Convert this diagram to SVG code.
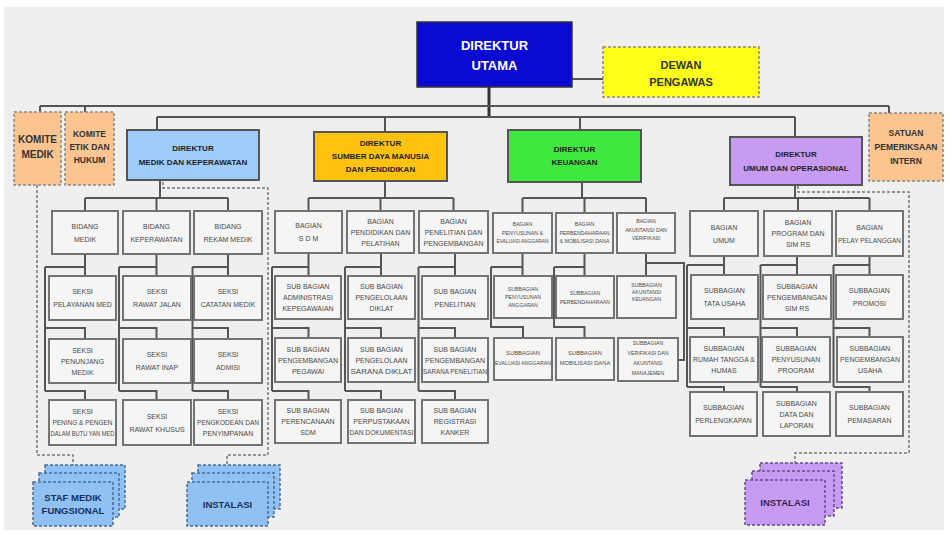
<svg xmlns="http://www.w3.org/2000/svg" width="948" height="535" viewBox="0 0 948 535">
<style>
.bx{fill:#f5f5f5;stroke:#737373;stroke-width:2}
.t{font-family:"Liberation Sans",Arial,sans-serif;font-size:7px;fill:#4a4a4a;text-anchor:middle}
.s{font-family:"Liberation Sans",Arial,sans-serif;font-size:5.2px;fill:#4a4a4a;text-anchor:middle}
.d{font-family:"Liberation Sans",Arial,sans-serif;font-weight:bold;font-size:8px;fill:#222;text-anchor:middle}
.k{font-family:"Liberation Sans",Arial,sans-serif;font-weight:bold;fill:#333;text-anchor:middle}
.ln{stroke:#555;stroke-width:2;fill:none}
.dl{stroke:#777;stroke-width:1.5;stroke-dasharray:3 2;fill:none}
.or{fill:#fcc48e;stroke:#888;stroke-width:1.5;stroke-dasharray:3 2}
.sb{fill:#8fc2f2;stroke:#4b6a9a;stroke-width:1.5;stroke-dasharray:3 2}
.sp{fill:#c79bf2;stroke:#6a4a8a;stroke-width:1.5;stroke-dasharray:3 2}
.dir{stroke:#555;stroke-width:2}
</style>
<rect x="0" y="0" width="948" height="535" fill="#ffffff"/>
<rect x="4" y="7" width="940" height="523" fill="#efefef"/>

<g id="connectors">
<path class="ln" d="M572 79H603"/>
<path d="M489 87V117" stroke="#333" stroke-width="3" fill="none"/>
<path class="ln" d="M40 106H889M40 106V112M85 106V112M889 106V113"/>
<path class="ln" d="M157 117H795M157 117V130M385 117V132M580 117V130M795 117V137"/>
<!-- medik -->
<path class="ln" d="M160 180V198M85 198H228M85 198V211M156.5 198V211M228 198V211"/>
<path class="ln" d="M85 254V276M45 267H85M45 267V391M45 328H85V339M45 391H85V400"/>
<path class="ln" d="M156.5 254V276M119 267H156.5M119 267V391M119 328H156.5V339M119 391H156.5V400"/>
<path class="ln" d="M228 254V276M192.5 267H228M192.5 267V391M192.5 328H228V339M192.5 391H228V400"/>
<!-- sdm -->
<path class="ln" d="M385 181V198M308.5 198H453.5M308.5 198V211M380.5 198V211M453.5 198V211"/>
<path class="ln" d="M308.5 253V276M272 267H308.5M272 267V391M272 328H308.5V338M272 391H308.5V400"/>
<path class="ln" d="M381 253V276M345 267H381M345 267V391M345 328H381V338M345 391H381V400"/>
<path class="ln" d="M455 253V276M418.5 267H455M418.5 267V391M418.5 328H455V338M418.5 391H455V400"/>
<!-- keuangan -->
<path class="ln" d="M582 182V198M522.5 198H646M522.5 198V213M584.5 198V213M646 198V213"/>
<path class="ln" d="M522.5 253V276M491 267H522.5M491 267V327H523V338"/>
<path class="ln" d="M584.5 253V276M554 267H584.5M554 267V327H584.5V338"/>
<path class="ln" d="M646 253V276M646 263H684V360H678"/>
<!-- umum -->
<path class="ln" d="M795 185V198M724 198H869.5M724 198V211M798 198V211M869.5 198V211"/>
<path class="ln" d="M724 256V275M687 265H724M687 265V387M687 328H724V337M687 387H724V392"/>
<path class="ln" d="M797 256V275M760.5 265H797M760.5 265V387M760.5 328H797V337M760.5 387H797V392"/>
<path class="ln" d="M869.5 256V275M833.5 265H869.5M833.5 265V387M833.5 328H869.5V337M833.5 387H869.5V392"/>
<!-- dashed -->
<path class="dl" d="M37 185V455H73V465"/>
<path class="dl" d="M163 182V188H268V455H227V465"/>
<path class="dl" d="M798 186V192H909V453H795V463"/>
</g>

<g id="direktur-utama">
<rect x="417" y="22" width="155" height="65" fill="#0a0ad2" stroke="#333" stroke-width="1.5"/>
<text x="494.5" y="50" class="k" font-size="13" fill="#ffffff" style="fill:#fff">DIREKTUR</text>
<text x="494.5" y="70" class="k" font-size="13" style="fill:#fff">UTAMA</text>
</g>
<g id="dewan-pengawas">
<rect x="603" y="47" width="156" height="50" fill="#ffff1a" stroke="#888" stroke-width="1.5" stroke-dasharray="3 2"/>
<text x="681" y="69" class="k" font-size="11">DEWAN</text>
<text x="681" y="86" class="k" font-size="11">PENGAWAS</text>
</g>
<g id="komite-medik">
<rect class="or" x="14" y="112" width="47" height="73"/>
<text x="37.5" y="143" class="k" font-size="10">KOMITE</text>
<text x="37.5" y="158" class="k" font-size="10">MEDIK</text>
</g>
<g id="komite-etik">
<rect class="or" x="65" y="112" width="49" height="73"/>
<text x="89.5" y="137" class="k" font-size="8.5">KOMITE</text>
<text x="89.5" y="150" class="k" font-size="8.5">ETIK DAN</text>
<text x="89.5" y="163" class="k" font-size="8.5">HUKUM</text>
</g>
<g id="satuan-pemeriksaan">
<rect class="or" x="869" y="113" width="74" height="68"/>
<text x="906" y="136" class="k" font-size="8.5">SATUAN</text>
<text x="906" y="150" class="k" font-size="8.5">PEMERIKSAAN</text>
<text x="906" y="164" class="k" font-size="8.5">INTERN</text>
</g>
<g id="dir-medik">
<rect class="dir" x="127" y="130" width="132" height="50" fill="#9dcbfa"/>
<text x="193" y="151" class="d">DIREKTUR</text>
<text x="193" y="165" class="d">MEDIK DAN KEPERAWATAN</text>
</g>
<g id="dir-sdm">
<rect class="dir" x="314" y="132" width="133" height="49" fill="#ffc20e"/>
<text x="380.5" y="146" class="d">DIREKTUR</text>
<text x="380.5" y="159" class="d">SUMBER DAYA MANUSIA</text>
<text x="380.5" y="172" class="d">DAN PENDIDIKAN</text>
</g>
<g id="dir-keuangan">
<rect class="dir" x="508" y="130" width="133" height="52" fill="#3fe83f"/>
<text x="574.5" y="152" class="d">DIREKTUR</text>
<text x="574.5" y="165" class="d">KEUANGAN</text>
</g>
<g id="dir-umum">
<rect class="dir" x="730" y="137" width="132" height="48" fill="#c79bf2"/>
<text x="796" y="157" class="d">DIREKTUR</text>
<text x="796" y="171" class="d">UMUM DAN OPERASIONAL</text>
</g>

<!-- MEDIK -->
<g id="bidang-medik"><rect class="bx" x="52" y="211" width="66" height="43"/><text class="t" x="85" y="228.5">BIDANG</text><text class="t" x="85" y="241.5">MEDIK</text></g>
<g id="bidang-keperawatan"><rect class="bx" x="123" y="211" width="67" height="43"/><text class="t" x="156.5" y="228.5">BIDANG</text><text class="t" x="156.5" y="241.5">KEPERAWATAN</text></g>
<g id="bidang-rekam"><rect class="bx" x="194" y="211" width="68" height="43"/><text class="t" x="228" y="228.5">BIDANG</text><text class="t" x="228" y="241.5">REKAM MEDIK</text></g>

<g id="seksi-pelayanan"><rect class="bx" x="49" y="276" width="67" height="44"/><text class="t" x="82.5" y="294">SEKSI</text><text class="t" x="82.5" y="307">PELAYANAN MED</text></g>
<g id="seksi-penunjang"><rect class="bx" x="49" y="339" width="67" height="44"/><text class="t" x="82.5" y="352.5">SEKSI</text><text class="t" x="82.5" y="363.5">PENUNJANG</text><text class="t" x="82.5" y="374.5">MEDIK</text></g>
<g id="seksi-peningkatan"><rect class="bx" x="49" y="400" width="67" height="45"/><text class="t" x="82.5" y="414">SEKSI</text><text class="t" x="82.5" y="425" textLength="60" lengthAdjust="spacingAndGlyphs">PENING &amp; PENGEN</text><text class="t" x="82.5" y="436" textLength="64" lengthAdjust="spacingAndGlyphs">DALAM BUTU YAN MED</text></g>

<g id="seksi-rawat-jalan"><rect class="bx" x="123" y="276" width="68" height="44"/><text class="t" x="157" y="294">SEKSI</text><text class="t" x="157" y="307">RAWAT JALAN</text></g>
<g id="seksi-rawat-inap"><rect class="bx" x="123" y="339" width="68" height="44"/><text class="t" x="157" y="357">SEKSI</text><text class="t" x="157" y="370">RAWAT INAP</text></g>
<g id="seksi-rawat-khusus"><rect class="bx" x="123" y="400" width="68" height="45"/><text class="t" x="157" y="418.5">SEKSI</text><text class="t" x="157" y="431.5">RAWAT KHUSUS</text></g>

<g id="seksi-catatan"><rect class="bx" x="194" y="276" width="68" height="44"/><text class="t" x="228" y="294">SEKSI</text><text class="t" x="228" y="307">CATATAN MEDIK</text></g>
<g id="seksi-admisi"><rect class="bx" x="194" y="339" width="68" height="44"/><text class="t" x="228" y="357">SEKSI</text><text class="t" x="228" y="370">ADMISI</text></g>
<g id="seksi-pengkodean"><rect class="bx" x="194" y="400" width="68" height="45"/><text class="t" x="228" y="414">SEKSI</text><text class="t" x="228" y="425" textLength="62" lengthAdjust="spacingAndGlyphs">PENGKODEAN DAN</text><text class="t" x="228" y="436">PENYIMPANAN</text></g>

<!-- SDM -->
<g id="bagian-sdm"><rect class="bx" x="275" y="211" width="67" height="42"/><text class="t" x="308.5" y="228">BAGIAN</text><text class="t" x="308.5" y="241">S D M</text></g>
<g id="bagian-diklat"><rect class="bx" x="347" y="211" width="67" height="42"/><text class="t" x="380.5" y="223.5">BAGIAN</text><text class="t" x="380.5" y="234.5">PENDIDIKAN DAN</text><text class="t" x="380.5" y="245.5">PELATIHAN</text></g>
<g id="bagian-litbang"><rect class="bx" x="419" y="211" width="69" height="42"/><text class="t" x="453.5" y="223.5">BAGIAN</text><text class="t" x="453.5" y="234.5">PENELITIAN DAN</text><text class="t" x="453.5" y="245.5">PENGEMBANGAN</text></g>

<g id="sub-adm-kepeg"><rect class="bx" x="275" y="276" width="66" height="43"/><text class="t" x="308" y="289">SUB BAGIAN</text><text class="t" x="308" y="300">ADMINISTRASI</text><text class="t" x="308" y="311">KEPEGAWAIAN</text></g>
<g id="sub-pengembangan-pegawai"><rect class="bx" x="275" y="338" width="66" height="44"/><text class="t" x="308" y="351.5">SUB BAGIAN</text><text class="t" x="308" y="362.5">PENGEMBANGAN</text><text class="t" x="308" y="373.5">PEGAWAI</text></g>
<g id="sub-perencanaan-sdm"><rect class="bx" x="275" y="400" width="66" height="43"/><text class="t" x="308" y="413">SUB BAGIAN</text><text class="t" x="308" y="424">PERENCANAAN</text><text class="t" x="308" y="435">SDM</text></g>

<g id="sub-diklat"><rect class="bx" x="348" y="276" width="67" height="43"/><text class="t" x="381.5" y="289">SUB BAGIAN</text><text class="t" x="381.5" y="300">PENGELOLAAN</text><text class="t" x="381.5" y="311">DIKLAT</text></g>
<g id="sub-sarana-diklat"><rect class="bx" x="348" y="338" width="67" height="44"/><text class="t" x="381.5" y="351.5">SUB BAGIAN</text><text class="t" x="381.5" y="362.5">PENGELOLAAN</text><text class="t" x="381.5" y="373.5" textLength="62" lengthAdjust="spacingAndGlyphs">SARANA DIKLAT</text></g>
<g id="sub-perpustakaan"><rect class="bx" x="348" y="400" width="67" height="43"/><text class="t" x="381.5" y="413">SUB BAGIAN</text><text class="t" x="381.5" y="424">PERPUSTAKAAN</text><text class="t" x="381.5" y="435" textLength="64" lengthAdjust="spacingAndGlyphs">DAN DOKUMENTASI</text></g>

<g id="sub-penelitian"><rect class="bx" x="422" y="276" width="66" height="43"/><text class="t" x="455" y="293.5">SUB BAGIAN</text><text class="t" x="455" y="306.5">PENELITIAN</text></g>
<g id="sub-sarana-penelitian"><rect class="bx" x="422" y="338" width="66" height="44"/><text class="t" x="455" y="351.5">SUB BAGIAN</text><text class="t" x="455" y="362.5">PENGEMBANGAN</text><text class="t" x="455" y="373.5" textLength="64" lengthAdjust="spacingAndGlyphs">SARANA PENELITIAN</text></g>
<g id="sub-registrasi"><rect class="bx" x="422" y="400" width="66" height="43"/><text class="t" x="455" y="413">SUB BAGIAN</text><text class="t" x="455" y="424">REGISTRASI</text><text class="t" x="455" y="435">KANKER</text></g>

<!-- KEUANGAN -->
<g id="bagian-anggaran"><rect class="bx" x="493" y="213" width="59" height="40"/><text class="s" x="522.5" y="226">BAGIAN</text><text class="s" x="522.5" y="234.5">PENYUSUNAN &amp;</text><text class="s" x="522.5" y="243" textLength="52" lengthAdjust="spacingAndGlyphs">EVALUASI ANGGARAN</text></g>
<g id="bagian-perbendaharaan"><rect class="bx" x="556" y="213" width="57" height="40"/><text class="s" x="584.5" y="226">BAGIAN</text><text class="s" x="584.5" y="234.5">PERBENDAHARAAN</text><text class="s" x="584.5" y="243" textLength="50" lengthAdjust="spacingAndGlyphs">&amp; MOBILISASI DANA</text></g>
<g id="bagian-akuntansi"><rect class="bx" x="617" y="213" width="58" height="40"/><text class="s" x="646" y="223">BAGIAN</text><text class="s" x="646" y="231.5">AKUNTANSI DAN</text><text class="s" x="646" y="240">VERIFIKASI</text></g>

<g id="sub-penyusunan-anggaran"><rect class="bx" x="494" y="276" width="58" height="42"/><text class="s" x="523" y="291">SUBBAGIAN</text><text class="s" x="523" y="299">PENYUSUNAN</text><text class="s" x="523" y="307">ANGGARAN</text></g>
<g id="sub-perbendaharaan"><rect class="bx" x="556" y="276" width="58" height="42"/><text class="s" x="585" y="295">SUBBAGIAN</text><text class="s" x="585" y="304">PERBENDAHARAAN</text></g>
<g id="sub-akuntansi-keuangan"><rect class="bx" x="617" y="276" width="59" height="42"/><text class="s" x="646.5" y="287">SUBBAGIAN</text><text class="s" x="646.5" y="294">AKUNTANSI</text><text class="s" x="646.5" y="301">KEUANGAN</text></g>

<g id="sub-evaluasi-anggaran"><rect class="bx" x="494" y="338" width="58" height="42"/><text class="s" x="523" y="355" style="font-size:5.8px">SUBBAGIAN</text><text class="s" x="523" y="365" style="font-size:5.8px" textLength="56" lengthAdjust="spacingAndGlyphs">EVALUASI ANGGARAN</text></g>
<g id="sub-mobilisasi-dana"><rect class="bx" x="556" y="338" width="58" height="42"/><text class="s" x="585" y="355" style="font-size:5.8px">SUBBAGIAN</text><text class="s" x="585" y="365" style="font-size:5.8px">MOBILISASI DANA</text></g>
<g id="sub-verifikasi"><rect class="bx" x="618" y="338" width="60" height="43"/><text class="s" x="648" y="345">SUBBAGIAN</text><text class="s" x="648" y="355">VERIFIKASI DAN</text><text class="s" x="648" y="365">AKUNTANSI</text><text class="s" x="648" y="375">MANAJEMEN</text></g>

<!-- UMUM -->
<g id="bagian-umum"><rect class="bx" x="690" y="211" width="68" height="45"/><text class="t" x="724" y="229.5">BAGIAN</text><text class="t" x="724" y="242.5">UMUM</text></g>
<g id="bagian-program"><rect class="bx" x="764" y="211" width="68" height="45"/><text class="t" x="798" y="225">BAGIAN</text><text class="t" x="798" y="236">PROGRAM DAN</text><text class="t" x="798" y="247">SIM RS</text></g>
<g id="bagian-pelanggan"><rect class="bx" x="836" y="211" width="67" height="45"/><text class="t" x="869.5" y="229.5">BAGIAN</text><text class="t" x="869.5" y="242.5" textLength="63" lengthAdjust="spacingAndGlyphs">PELAY PELANGGAN</text></g>

<g id="sub-tata-usaha"><rect class="bx" x="691" y="275" width="67" height="44"/><text class="t" x="724.5" y="293">SUBBAGIAN</text><text class="t" x="724.5" y="306">TATA USAHA</text></g>
<g id="sub-pengembangan-simrs"><rect class="bx" x="763" y="275" width="68" height="44"/><text class="t" x="797" y="288.5">SUBBAGIAN</text><text class="t" x="797" y="299.5">PENGEMBANGAN</text><text class="t" x="797" y="310.5">SIM RS</text></g>
<g id="sub-promosi"><rect class="bx" x="836" y="275" width="67" height="44"/><text class="t" x="869.5" y="293">SUBBAGIAN</text><text class="t" x="869.5" y="306">PROMOSI</text></g>

<g id="sub-rumah-tangga"><rect class="bx" x="690" y="337" width="68" height="45"/><text class="t" x="724" y="351">SUBBAGIAN</text><text class="t" x="724" y="362" textLength="62" lengthAdjust="spacingAndGlyphs">RUMAH TANGGA &amp;</text><text class="t" x="724" y="373">HUMAS</text></g>
<g id="sub-penyusunan-program"><rect class="bx" x="762" y="337" width="68" height="45"/><text class="t" x="796" y="351">SUBBAGIAN</text><text class="t" x="796" y="362">PENYUSUNAN</text><text class="t" x="796" y="373">PROGRAM</text></g>
<g id="sub-pengembangan-usaha"><rect class="bx" x="837" y="337" width="66" height="45"/><text class="t" x="870" y="351">SUBBAGIAN</text><text class="t" x="870" y="362">PENGEMBANGAN</text><text class="t" x="870" y="373">USAHA</text></g>

<g id="sub-perlengkapan"><rect class="bx" x="690" y="392" width="67" height="44"/><text class="t" x="723.5" y="410">SUBBAGIAN</text><text class="t" x="723.5" y="423">PERLENGKAPAN</text></g>
<g id="sub-data-laporan"><rect class="bx" x="763" y="392" width="67" height="44"/><text class="t" x="796.5" y="405.5">SUBBAGIAN</text><text class="t" x="796.5" y="416.5">DATA DAN</text><text class="t" x="796.5" y="427.5">LAPORAN</text></g>
<g id="sub-pemasaran"><rect class="bx" x="836" y="392" width="67" height="44"/><text class="t" x="869.5" y="410">SUBBAGIAN</text><text class="t" x="869.5" y="423">PEMASARAN</text></g>

<!-- stacks -->
<g id="staf-medik-fungsional">
<rect class="sb" x="45" y="465" width="80" height="44"/>
<rect class="sb" x="39" y="473" width="80" height="44"/>
<rect class="sb" x="33" y="482" width="80" height="44"/>
<text x="73" y="501" class="k" font-size="9.5" style="fill:#1c2d5c">STAF MEDIK</text>
<text x="73" y="514" class="k" font-size="9.5" style="fill:#1c2d5c">FUNGSIONAL</text>
</g>
<g id="instalasi-medik">
<rect class="sb" x="198" y="465" width="82" height="44"/>
<rect class="sb" x="192" y="473" width="82" height="44"/>
<rect class="sb" x="187" y="482" width="81" height="44"/>
<text x="227.5" y="507.5" class="k" font-size="9.5" style="fill:#1c2d5c">INSTALASI</text>
</g>
<g id="instalasi-umum">
<rect class="sp" x="760" y="463" width="82" height="45"/>
<rect class="sp" x="752" y="471" width="82" height="45"/>
<rect class="sp" x="745" y="480" width="80" height="45"/>
<text x="785" y="506" class="k" font-size="9.5" style="fill:#3a1f55">INSTALASI</text>
</g>
</svg>
